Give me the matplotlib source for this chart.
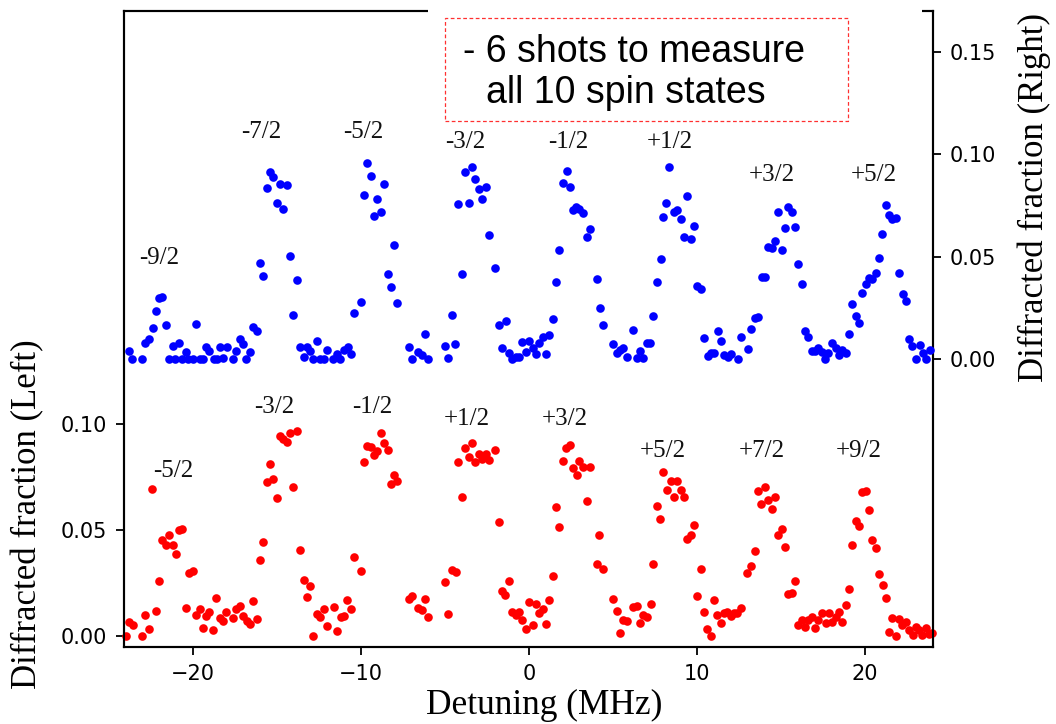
import matplotlib
matplotlib.use("Agg")
import matplotlib.pyplot as plt
from matplotlib.patches import Rectangle

# ---------------- data ----------------
blue_x = [-23.85, -23.65, -23.05, -22.86, -22.62, -22.42, -22.24, -22.02, -21.83, -21.63,
          -21.43, -21.23, -21.07, -20.82, -20.67, -20.43, -20.28, -20.02, -19.82, -19.62,
          -19.39, -19.23, -19.03, -18.79, -18.59, -18.43, -18.20, -17.99, -17.64, -17.44,
          -17.24, -17.04, -16.85, -16.61, -16.45, -16.21, -16.01, -15.82, -15.61, -15.42,
          -15.22, -15.02, -14.82, -14.63, -14.39, -14.23, -14.03, -13.83, -13.63, -13.43,
          -13.20, -13.04, -12.84, -12.64, -12.44, -12.20, -12.01, -11.65, -11.45, -11.25,
          -11.05, -10.79, -10.61, -10.42, -10.02, -9.82, -9.63, -9.42, -9.23, -9.03,
          -8.79, -8.61, -8.43, -8.21, -8.04, -7.84, -7.18, -6.98, -6.59, -6.39,
          -6.19, -5.99, -5.00, -4.80, -4.60, -4.40, -4.21, -4.01, -3.79, -3.59,
          -3.39, -3.20, -2.99, -2.80, -2.58, -2.40, -2.01, -1.80, -1.39, -1.59,
          -1.21, -1.01, -0.77, -0.58, -0.40, -0.18, 0.02, 0.22, 0.40, 0.61,
          0.82, 0.99, 1.21, 1.41, 1.61, 1.80, 2.01, 2.24, 2.44, 2.60,
          2.80, 2.99, 3.20, 3.43, 3.63, 4.03, 4.23, 4.42, 5.02, 5.22,
          5.42, 5.61, 5.82, 6.21, 6.41, 6.61, 6.80, 7.01, 7.20, 7.40,
          7.60, 7.84, 7.99, 8.15, 8.35, 8.63, 8.83, 9.03, 9.42, 9.23,
          9.63, 9.82, 10.02, 10.22, 10.42, 10.64, 10.83, 11.03, 11.23, 11.43,
          11.63, 11.83, 12.02, 12.42, 12.62, 13.02, 13.21, 13.45, 13.65, 13.85,
          14.05, 14.24, 14.45, 14.64, 14.84, 15.04, 15.24, 15.43, 15.64, 15.83,
          16.03, 16.23, 16.43, 16.63, 16.83, 17.02, 17.22, 17.42, 17.62, 17.82,
          18.05, 18.26, 18.45, 18.65, 18.85, 19.05, 19.24, 19.45, 19.64, 19.84,
          20.04, 20.24, 20.43, 20.64, 20.83, 21.03, 21.23, 21.43, 21.63, 21.86,
          22.02, 22.26, 22.46, 22.62, 22.82, 23.05, 23.26, 23.45, 23.65, 23.85]
blue_y = [0.0040, 0.0000, 0.0000, 0.0078, 0.0098, 0.0151, 0.0234, 0.0300, 0.0302, 0.0166,
          0.0000, 0.0065, 0.0000, 0.0081, 0.0000, 0.0034, 0.0000, 0.0000, 0.0174, 0.0000,
          0.0000, 0.0059, 0.0039, 0.0000, 0.0000, 0.0061, 0.0006, 0.0061, 0.0000, 0.0042,
          0.0099, 0.0075, 0.0000, 0.0034, 0.0159, 0.0140, 0.0470, 0.0406, 0.0834, 0.0912,
          0.0888, 0.0764, 0.0854, 0.0733, 0.0852, 0.0505, 0.0218, 0.0388, 0.0059, 0.0011,
          0.0061, 0.0039, 0.0000, 0.0089, 0.0000, 0.0000, 0.0045, 0.0000, 0.0026, 0.0000,
          0.0045, 0.0059, 0.0026, 0.0224, 0.0281, 0.0800, 0.0956, 0.0894, 0.0699, 0.0780,
          0.0720, 0.0855, 0.0415, 0.0351, 0.0556, 0.0273, 0.0060, 0.0000, 0.0037, 0.0021,
          0.0122, 0.0000, 0.0066, 0.0006, 0.0216, 0.0073, 0.0756, 0.0415, 0.0912, 0.0764,
          0.0937, 0.0881, 0.0831, 0.0782, 0.0839, 0.0605, 0.0445, 0.0169, 0.0185, 0.0055,
          0.0029, 0.0000, 0.0010, 0.0010, 0.0083, 0.0036, 0.0089, 0.0054, 0.0024, 0.0081,
          0.0110, 0.0027, 0.0119, 0.0197, 0.0379, 0.0535, 0.0859, 0.0919, 0.0840, 0.0728,
          0.0741, 0.0733, 0.0715, 0.0598, 0.0634, 0.0392, 0.0249, 0.0166, 0.0075, 0.0029,
          0.0045, 0.0057, 0.0010, 0.0141, 0.0008, 0.0042, 0.0008, 0.0081, 0.0081, 0.0210,
          0.0379, 0.0488, 0.0693, 0.0764, 0.0940, 0.0720, 0.0728, 0.0683, 0.0795, 0.0595,
          0.0585, 0.0649, 0.0359, 0.0343, 0.0102, 0.0018, 0.0029, 0.0032, 0.0138, 0.0088,
          0.0021, 0.0013, 0.0024, 0.0000, 0.0110, 0.0050, 0.0149, 0.0201, 0.0208, 0.0401,
          0.0401, 0.0546, 0.0541, 0.0577, 0.0717, 0.0532, 0.0639, 0.0741, 0.0717, 0.0647,
          0.0463, 0.0366, 0.0140, 0.0110, 0.0042, 0.0042, 0.0057, 0.0037, 0.0003, 0.0029,
          0.0078, 0.0057, 0.0021, 0.0045, 0.0029, 0.0122, 0.0268, 0.0213, 0.0179, 0.0323,
          0.0366, 0.0395, 0.0390, 0.0421, 0.0496, 0.0610, 0.0754, 0.0702, 0.0684, 0.0691,
          0.0422, 0.0317, 0.0284, 0.0100, 0.0065, 0.0000, 0.0070, 0.0029, 0.0000, 0.0045]

red_x = [-24.00, -23.85, -23.61, -23.05, -22.86, -22.66, -22.46, -22.24, -22.04, -21.86,
         -21.63, -21.43, -21.23, -21.03, -20.85, -20.64, -20.42, -20.26, -20.02, -19.82,
         -19.62, -19.42, -19.23, -19.03, -18.83, -18.63, -18.43, -18.23, -18.04, -17.64,
         -17.44, -17.20, -17.01, -16.80, -16.61, -16.43, -16.21, -16.01, -15.82, -15.61,
         -15.42, -15.22, -15.02, -14.86, -14.63, -14.42, -14.23, -14.03, -13.79, -13.63,
         -13.43, -13.23, -13.04, -12.84, -12.64, -12.44, -12.20, -12.01, -11.61, -11.41,
         -11.21, -11.01, -10.82, -10.61, -10.42, -10.02, -9.82, -9.63, -9.42, -9.23,
         -9.03, -8.83, -8.63, -8.39, -8.23, -8.04, -7.84, -7.18, -6.98, -6.59,
         -6.39, -6.19, -5.99, -5.00, -4.80, -4.60, -4.36, -4.21, -4.01, -3.79,
         -3.59, -3.39, -3.20, -2.99, -2.80, -2.58, -2.38, -2.01, -1.80, -1.63,
         -1.43, -1.19, -1.01, -0.77, -0.58, -0.40, -0.18, 0.02, 0.22, 0.42,
         0.61, 0.82, 0.99, 1.21, 1.41, 1.61, 1.80, 2.01, 2.20, 2.44,
         2.64, 2.84, 2.99, 3.23, 3.63, 3.43, 4.18, 4.03, 4.42, 5.02,
         5.22, 5.42, 5.61, 5.85, 6.21, 6.41, 6.61, 6.80, 7.01, 7.24,
         7.40, 7.62, 7.82, 7.99, 8.20, 8.43, 8.63, 8.83, 9.03, 9.23,
         9.42, 9.63, 9.82, 10.02, 10.22, 10.42, 10.61, 10.82, 11.01, 11.21,
         11.41, 11.61, 11.80, 12.01, 12.20, 12.40, 12.60, 12.99, 13.23, 13.45,
         13.61, 13.83, 14.05, 14.24, 14.45, 14.66, 14.84, 15.04, 15.24, 15.43,
         15.64, 15.83, 16.03, 16.23, 16.43, 16.63, 16.83, 17.02, 17.22, 17.46,
         17.66, 17.86, 18.05, 18.26, 18.45, 18.65, 18.85, 19.05, 19.24, 19.45,
         19.64, 19.84, 20.04, 20.24, 20.43, 20.64, 20.83, 21.07, 21.27, 21.43,
         21.63, 21.86, 22.02, 22.22, 22.42, 22.62, 22.86, 23.02, 23.21, 23.41,
         23.61, 23.81, 23.97]
red_y = [0.0000, 0.0065, 0.0050, 0.0000, 0.0100, 0.0033, 0.0692, 0.0118, 0.0259, 0.0453,
         0.0429, 0.0476, 0.0429, 0.0388, 0.0501, 0.0505, 0.0133, 0.0299, 0.0305, 0.0100,
         0.0126, 0.0039, 0.0093, 0.0112, 0.0027, 0.0179, 0.0086, 0.0069, 0.0112, 0.0085,
         0.0126, 0.0143, 0.0096, 0.0072, 0.0055, 0.0167, 0.0080, 0.0358, 0.0445, 0.0728,
         0.0813, 0.0742, 0.0650, 0.0943, 0.0928, 0.0915, 0.0956, 0.0704, 0.0967, 0.0404,
         0.0263, 0.0184, 0.0236, 0.0000, 0.0105, 0.0091, 0.0129, 0.0049, 0.0137, 0.0022,
         0.0088, 0.0096, 0.0168, 0.0127, 0.0373, 0.0308, 0.0819, 0.0896, 0.0890, 0.0854,
         0.0874, 0.0956, 0.0909, 0.0876, 0.0716, 0.0758, 0.0733, 0.0173, 0.0190, 0.0131,
         0.0123, 0.0173, 0.0090, 0.0256, 0.0105, 0.0313, 0.0302, 0.0821, 0.0657, 0.0888,
         0.0846, 0.0912, 0.0821, 0.0860, 0.0836, 0.0860, 0.0829, 0.0877, 0.0539, 0.0211,
         0.0195, 0.0259, 0.0115, 0.0099, 0.0115, 0.0077, 0.0033, 0.0159, 0.0050, 0.0152,
         0.0107, 0.0127, 0.0057, 0.0168, 0.0283, 0.0607, 0.0513, 0.0825, 0.0885, 0.0901,
         0.0791, 0.0758, 0.0824, 0.0799, 0.0797, 0.0635, 0.0475, 0.0340, 0.0316, 0.0175,
         0.0119, 0.0016, 0.0075, 0.0069, 0.0138, 0.0142, 0.0060, 0.0098, 0.0091, 0.0152,
         0.0340, 0.0613, 0.0550, 0.0774, 0.0689, 0.0731, 0.0657, 0.0733, 0.0689, 0.0654,
         0.0458, 0.0475, 0.0524, 0.0189, 0.0316, 0.0115, 0.0034, 0.0000, 0.0168, 0.0098,
         0.0060, 0.0107, 0.0115, 0.0096, 0.0107, 0.0110, 0.0133, 0.0296, 0.0330, 0.0401,
         0.0685, 0.0621, 0.0704, 0.0642, 0.0600, 0.0657, 0.0476, 0.0503, 0.0421, 0.0198,
         0.0204, 0.0259, 0.0053, 0.0075, 0.0044, 0.0075, 0.0088, 0.0036, 0.0075, 0.0110,
         0.0060, 0.0107, 0.0067, 0.0091, 0.0113, 0.0067, 0.0146, 0.0222, 0.0428, 0.0544,
         0.0520, 0.0678, 0.0684, 0.0593, 0.0453, 0.0414, 0.0292, 0.0241, 0.0181, 0.0019,
         0.0086, 0.0000, 0.0079, 0.0052, 0.0065, 0.0028, 0.0005, 0.0044, 0.0028, 0.0005,
         0.0036, 0.0008, 0.0016]

blue_labels = ["-9/2", "-7/2", "-5/2", "-3/2", "-1/2", "+1/2", "+3/2", "+5/2"]
blue_label_x = [-22.02, -15.92, -9.85, -3.78, 2.32, 8.39, 14.46, 20.54]
blue_label_y = [0.0494, 0.1111, 0.1111, 0.1062, 0.1062, 0.1062, 0.0899, 0.0899]

red_labels = ["-5/2", "-3/2", "-1/2", "+1/2", "+3/2", "+5/2", "+7/2", "+9/2"]
red_label_x = [-21.19, -15.18, -9.35, -3.69, 2.14, 7.98, 13.84, 19.61]
red_label_y = [0.0776, 0.1078, 0.1078, 0.1024, 0.1024, 0.0873, 0.0873, 0.0873]

x_ticks = [-20, -10, 0, 10, 20]
left_ticks = [0.00, 0.05, 0.10]
right_ticks = [0.00, 0.05, 0.10, 0.15]

note_lines = ["- 6 shots to measure", "all 10 spin states"]

# ---------------- figure ----------------
W, H = 1056, 724
fig = plt.figure(figsize=(W / 100, H / 100), dpi=100)
fig.patch.set_facecolor("white")

def fx(px):
    return px / W

def fy(py):
    return 1 - py / H

ax = fig.add_axes([fx(124), fy(647), (933 - 124) / W, (647 - 11) / H])
ax2 = ax.twinx()

serif = "Liberation Serif"

ax.plot(red_x, red_y, "o", color="#ff0000", ms=6.2, mew=0, zorder=3, clip_on=False)
ax2.plot(blue_x, blue_y, "o", color="#0000ff", ms=6.2, mew=0, zorder=3, clip_on=False)

ax.set_xlim(-24.12, 24.05)
ax.set_ylim(-0.0052, 0.2948)
ax2.set_ylim(-0.1403, 0.1699)

ax.set_xticks(x_ticks)
ax.set_xticklabels([("\u2212%d" % -t) if t < 0 else "%d" % t for t in x_ticks])
ax.set_yticks(left_ticks)
ax.set_yticklabels(["%.2f" % t for t in left_ticks])
ax2.set_yticks(right_ticks)
ax2.set_yticklabels(["%.2f" % t for t in right_ticks])

for a in (ax, ax2):
    a.tick_params(direction="out", length=5.5, width=1.3, pad=6.5,
                  labelsize=15, colors="black")
    for s in a.spines.values():
        s.set_linewidth(1.5)
        s.set_color("black")

for t, x, y in zip(blue_labels, blue_label_x, blue_label_y):
    ax2.text(x, y, t, ha="center", va="center", fontsize=18, family=serif,
             color="#111111", zorder=4)
for t, x, y in zip(red_labels, red_label_x, red_label_y):
    ax.text(x, y, t, ha="center", va="center", fontsize=18, family=serif,
            color="#111111", zorder=4)

# axis labels
fig.text(fx(544), fy(705), "Detuning (MHz)", ha="center", va="center",
         fontsize=25.5, family=serif)
fig.text(fx(28), fy(514), "Diffracted fraction (Left)", ha="center", va="center",
         rotation=90, fontsize=25, family=serif)
fig.text(fx(1034), fy(197), "Diffracted fraction (Right)", ha="center", va="center",
         rotation=90, fontsize=25, family=serif)

# white strip hiding part of the top spine behind the note
fig.patches.append(Rectangle((fx(428), fy(20)), (922 - 428) / W, 20 / H,
                             transform=fig.transFigure, facecolor="white",
                             edgecolor="none", zorder=5))
# dashed note box
fig.patches.append(Rectangle((fx(445), fy(121)), (848 - 445) / W, (121 - 18) / H,
                             transform=fig.transFigure, facecolor="white",
                             edgecolor="#ff3030", linewidth=0.9,
                             linestyle=(0, (3, 2)), zorder=6))
fig.text(fx(463), fy(62), note_lines[0], ha="left", va="baseline",
         fontsize=27, family="Liberation Sans", zorder=7)
fig.text(fx(486), fy(103), note_lines[1], ha="left", va="baseline",
         fontsize=27, family="Liberation Sans", zorder=7)

fig.savefig("out.png", dpi=100, facecolor="white")
